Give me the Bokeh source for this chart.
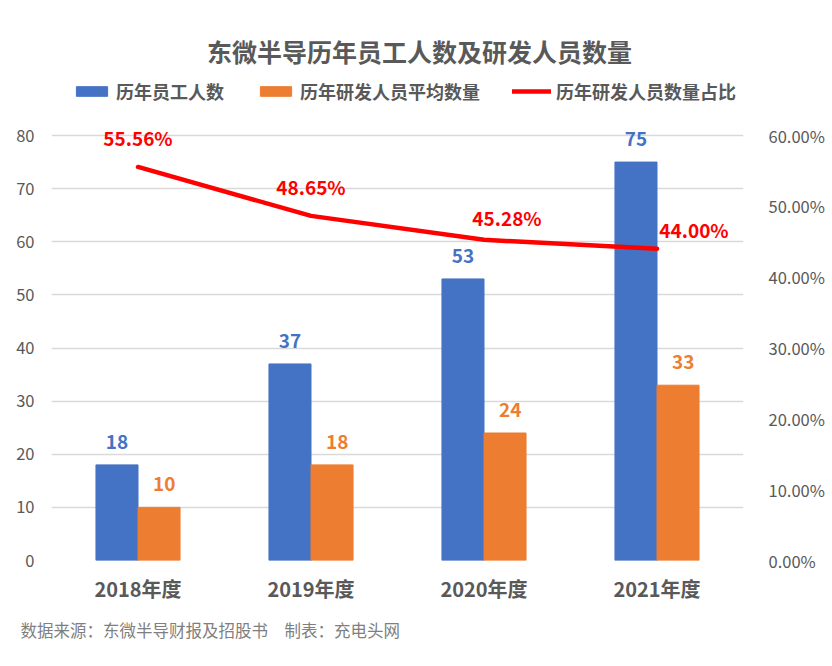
from bokeh.core.properties import value
from bokeh.embed import file_html
from bokeh.models import (ColumnDataSource, FactorRange, FixedTicker, Label, Legend,
                          LegendItem, LinearAxis, PrintfTickFormatter, Range1d, Title)
from bokeh.plotting import figure
from bokeh.resources import INLINE
from bokeh.transform import dodge

years = ["2018年度", "2019年度", "2020年度", "2021年度"]
staff = [18, 37, 53, 75]          # 历年员工人数
rd_staff = [10, 18, 24, 33]       # 历年研发人员平均数量
rd_ratio = [55.56, 48.65, 45.28, 44.00]  # 历年研发人员数量占比 (%)
left_ticks = [0, 10, 20, 30, 40, 50, 60, 70, 80]
right_ticks = [0, 10, 20, 30, 40, 50, 60]

FONT = "Noto Sans CJK SC"
GREY = "#595959"
BLUE = "#4472C4"
ORANGE = "#ED7D31"
RED = "#FF0000"

# frame runs from the top of the page down to the zero line (y=560 px);
# the visible axis stops at 80, the rest is room for title and legend
frame_h = 560
y_top = 80 * frame_h / 425.0

src = ColumnDataSource(dict(
    year=years,
    staff=staff,
    rd=rd_staff,
    ratio=rd_ratio,
    staff_label=[str(v) for v in staff],
    rd_label=[str(v) for v in rd_staff],
    ratio_label=["%.2f%%" % v for v in rd_ratio],
    # label nudges for the ratio line, in pixels
    lx=[0, 0, 23, 37],
    ly=[-29, -29, -22, -19],
))

p = figure(width=832, height=666, x_range=FactorRange(*years, range_padding=0),
           y_range=Range1d(0, y_top), output_backend="svg", toolbar_location=None,
           min_border_left=51, min_border_right=89, min_border_top=0,
           min_border_bottom=106, outline_line_color=None, y_axis_location=None)
p.extra_y_ranges = {"pct": Range1d(0, y_top * 60 / 80)}

left = LinearAxis(ticker=FixedTicker(ticks=left_ticks))
right = LinearAxis(y_range_name="pct", ticker=FixedTicker(ticks=right_ticks),
                   formatter=PrintfTickFormatter(format="%.2f%%"))
p.add_layout(left, "left")
p.add_layout(right, "right")

for ax in (left, right):
    ax.axis_line_color = None
    ax.major_tick_line_color = None
    ax.minor_tick_line_color = None
    ax.major_label_text_font = FONT
    ax.major_label_text_font_size = "16.5px"
    ax.major_label_text_color = GREY
left.major_label_standoff = 11
right.major_label_standoff = 19

xa = p.xaxis[0]
xa.axis_line_color = None
xa.major_tick_line_color = None
xa.major_label_text_font = FONT
xa.major_label_text_font_size = "20px"
xa.major_label_text_font_style = "bold"
xa.major_label_text_color = GREY
xa.major_label_standoff = 7

p.xgrid.grid_line_color = None
p.ygrid.grid_line_color = "#d9d9d9"
p.ygrid.grid_line_width = 1.5
p.ygrid.ticker = left.ticker

bw = 0.243
b1 = p.vbar(x=dodge("year", -bw / 2, range=p.x_range), top="staff", width=bw,
            source=src, color=BLUE)
b2 = p.vbar(x=dodge("year", bw / 2, range=p.x_range), top="rd", width=bw,
            source=src, color=ORANGE)
ln = p.line(x="year", y="ratio", y_range_name="pct", source=src,
            line_color=RED, line_width=4.5, line_cap="round", line_join="round")

lbl = dict(text_font=value(FONT), text_font_style="bold", text_font_size="19px",
           text_align="center", source=src)
p.text(x=dodge("year", -bw / 2, range=p.x_range), y="staff", text="staff_label",
       text_color=BLUE, text_baseline="bottom", y_offset=-16, **lbl)
p.text(x=dodge("year", bw / 2 + 0.03, range=p.x_range), y="rd", text="rd_label",
       text_color=ORANGE, text_baseline="bottom", y_offset=-16, **lbl)
p.text(x="year", y="ratio", text="ratio_label", y_range_name="pct",
       x_offset="lx", y_offset="ly", text_color=RED, text_baseline="middle", **lbl)

legend = Legend(items=[
    LegendItem(label="历年员工人数", renderers=[b1]),
    LegendItem(label="历年研发人员平均数量", renderers=[b2]),
    LegendItem(label="历年研发人员数量占比", renderers=[ln]),
], orientation="horizontal", location=(21, 456), glyph_width=39, glyph_height=12,
    label_standoff=5, spacing=32, padding=0, margin=0,
    label_text_font=FONT, label_text_font_size="18px", label_text_font_style="bold",
    label_text_color=GREY, background_fill_alpha=0, border_line_color=None)
p.add_layout(legend, "center")

p.add_layout(Label(x=368, y=510, x_units="screen", y_units="screen",
                   text="东微半导历年员工人数及研发人员数量", text_font=FONT,
                   text_font_size="25px", text_font_style="bold", text_color=GREY,
                   text_align="center", text_baseline="middle"))

p.add_layout(Title(text="数据来源：东微半导财报及招股书\u3000制表：充电头网",
                   align="left", offset=-31, standoff=20, text_font=FONT,
                   text_font_size="16.5px", text_font_style="normal",
                   text_color="#7f7f7f"), "below")

open("out.html", "w").write(file_html(p, INLINE))
